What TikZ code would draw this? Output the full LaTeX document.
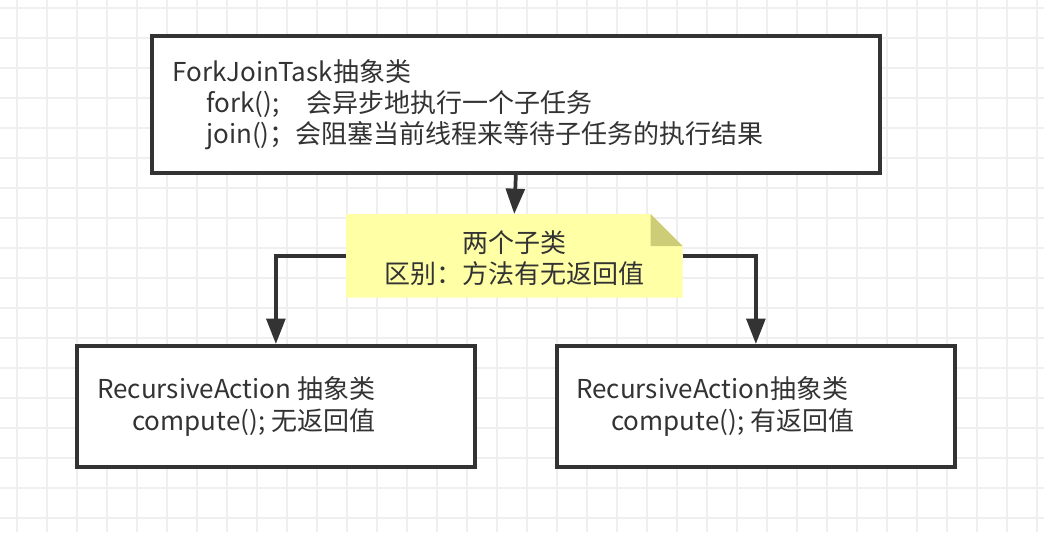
\documentclass[tikz,border=0pt]{standalone}
\usepackage{fontspec}
\setmainfont{Noto Sans CJK SC}
\usetikzlibrary{arrows.meta,calc}
\definecolor{ink}{HTML}{333333}
\definecolor{gridc}{HTML}{EFEFEF}
\definecolor{notefill}{HTML}{FFFFA6}
\definecolor{foldfill}{HTML}{CDCD78}
\tikzset{
  box/.style={draw=ink, line width=2.8pt, fill=white, rectangle, inner sep=0pt, anchor=north west},
  txt/.style={anchor=base west, inner sep=0pt, text=ink, font=\fontsize{19.5pt}{23pt}\selectfont},
  ctxt/.style={anchor=base, inner sep=0pt, text=ink, font=\fontsize{19.5pt}{23pt}\selectfont},
  conn/.style={draw=ink, line width=2.8pt, -{Triangle[length=19pt,width=14pt]}},
}
\begin{document}
\begin{tikzpicture}[x=0.75pt,y=-0.75pt]
\fill[white] (0,0) rectangle (1044,532);
\useasboundingbox (0,0) rectangle (1044,532);
\foreach \gx in {17,47,...,1037} \draw[gridc, line width=1.4pt] (\gx,0) -- (\gx,532);
\foreach \gy in {8,38,...,530} \draw[gridc, line width=1.4pt] (0,\gy) -- (1044,\gy);

% boxes
\node[box, minimum width=546pt, minimum height=102.75pt] (top) at (150,34) {};
\node[box, minimum width=298.5pt, minimum height=90.75pt] (left) at (75,344) {};
\node[box, minimum width=298.5pt, minimum height=90.75pt] (right) at (555,344) {};

% note
\node[rectangle, inner sep=0pt, minimum width=252pt, minimum height=62.25pt, anchor=north west] (note) at (346,214) {};
\fill[notefill] (note.north west) -- ($(note.north east)+(-32,0)$) -- ($(note.north east)+(0,32)$) -- (note.south east) -- (note.south west) -- cycle;
\fill[foldfill] ($(note.north east)+(-32,0)$) -- ($(note.north east)+(-32,32)$) -- ($(note.north east)+(0,32)$) -- cycle;

% connectors
\draw[conn] (top.south) -- (note.north);
\draw[conn] (note.west) -| (left.north);
\draw[conn] (note.east) -| (right.north);

% texts
\node[txt] (t1) at (172,81) {ForkJoinTask抽象类};
\node[txt] (t2) at (206,112) {fork();\hspace{1.05em}会异步地执行一个子任务};
\node[txt] (t3) at (206,143) {join()；会阻塞当前线程来等待子任务的执行结果};

\node[ctxt] (n1) at (514,252) {两个子类};
\node[ctxt] (n2) at (514,283) {区别：方法有无返回值};

\node[txt] (l1) at (97,398) {RecursiveAction 抽象类};
\node[txt] (l2) at (132,430) {compute(); 无返回值};
\node[txt] (r1) at (576,398) {RecursiveAction抽象类};
\node[txt] (r2) at (611,430) {compute(); 有返回值};
\end{tikzpicture}
\end{document}
